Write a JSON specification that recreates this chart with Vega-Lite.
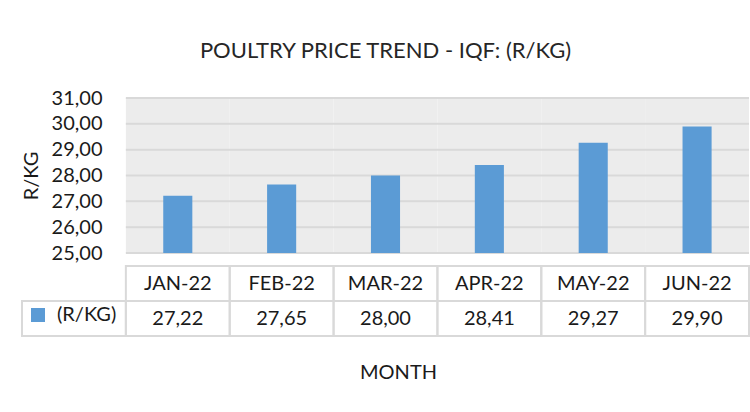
{
  "$schema": "https://vega.github.io/schema/vega-lite/v6.json",
  "width": 727,
  "height": 238,
  "autosize": {"type": "none"},
  "padding": {"left": 22, "top": 98, "right": 1, "bottom": 76},
  "background": "white",
  "title": {"text": "POULTRY PRICE TREND - IQF: (R/KG)", "fontSize": 22, "fontWeight": "normal", "font": "Lato", "color": "#262626", "offset": 25, "anchor": "middle"},
  "config": {
    "font": "Lato",
    "view": {"stroke": null},
    "locale": {"number": {"decimal": ",", "thousands": ".", "grouping": [3], "currency": ["", ""]}}
  },
  "datasets": {
    "prices": [
      {"month": "JAN-22", "value": 27.22, "series": "(R/KG)"},
      {"month": "FEB-22", "value": 27.65, "series": "(R/KG)"},
      {"month": "MAR-22", "value": 28.00, "series": "(R/KG)"},
      {"month": "APR-22", "value": 28.41, "series": "(R/KG)"},
      {"month": "MAY-22", "value": 29.27, "series": "(R/KG)"},
      {"month": "JUN-22", "value": 29.90, "series": "(R/KG)"}
    ],
    "ticks": [{"tick": 25}, {"tick": 26}, {"tick": 27}, {"tick": 28}, {"tick": 29}, {"tick": 30}, {"tick": 31}]
  },
  "data": {"name": "prices"},
  "resolve": {"scale": {"y": "independent"}},
  "layer": [
    {
      "layer": [
        {
          "mark": {"type": "rect", "fill": "#ececec"},
          "encoding": {
            "x": {"field": "month", "type": "nominal",
              "scale": {"type": "band", "domain": ["(R/KG)", "JAN-22", "FEB-22", "MAR-22", "APR-22", "MAY-22", "JUN-22"], "paddingInner": 0, "paddingOuter": 0},
              "axis": {"labels": false, "ticks": false, "domain": false, "grid": false, "title": "MONTH", "titleFontSize": 20, "titleFontWeight": "normal", "titleFont": "Lato", "titleColor": "#1a1a1a", "titleX": 376, "titleY": 36, "titleBaseline": "middle", "titleAlign": "center"}},
            "y": {"datum": 31, "type": "quantitative", "scale": {"domain": [25, 31], "range": [155, 0], "zero": false, "nice": false},
              "axis": {"title": "R/KG", "offset": -104, "labelPadding": 24, "labelOverlap": false, "ticks": false, "domain": false, "grid": false, "values": [25, 26, 27, 28, 29, 30, 31], "tickCount": 7, "format": ".2f", "labelFontSize": 20, "labelFont": "Lato", "labelColor": "#1a1a1a", "titleFontSize": 20, "titleFont": "Lato", "titleFontWeight": "normal", "titleColor": "#1a1a1a", "titlePadding": 10}},
            "y2": {"datum": 25}
          }
        },
        {
          "data": {"name": "ticks"},
          "mark": {"type": "rule", "color": "#d9d9d9", "strokeWidth": 2},
          "encoding": {
            "x": {"datum": "JAN-22", "type": "nominal", "bandPosition": 0,
              "scale": {"type": "band", "domain": ["(R/KG)", "JAN-22", "FEB-22", "MAR-22", "APR-22", "MAY-22", "JUN-22"], "paddingInner": 0, "paddingOuter": 0}},
            "x2": {"datum": "JUN-22", "bandPosition": 1},
            "y": {"field": "tick", "type": "quantitative", "scale": {"domain": [25, 31], "range": [155, 0], "zero": false, "nice": false},
              "axis": {"title": "R/KG", "offset": -104, "labelPadding": 24, "labelOverlap": false, "ticks": false, "domain": false, "grid": false, "values": [25, 26, 27, 28, 29, 30, 31], "tickCount": 7, "format": ".2f", "labelFontSize": 20, "labelFont": "Lato", "labelColor": "#1a1a1a", "titleFontSize": 20, "titleFont": "Lato", "titleFontWeight": "normal", "titleColor": "#1a1a1a", "titlePadding": 10}}
          }
        },
        {
          "mark": {"type": "bar", "width": {"band": 0.28}},
          "encoding": {
            "x": {"field": "month", "type": "nominal",
              "scale": {"type": "band", "domain": ["(R/KG)", "JAN-22", "FEB-22", "MAR-22", "APR-22", "MAY-22", "JUN-22"], "paddingInner": 0, "paddingOuter": 0}},
            "y": {"field": "value", "type": "quantitative", "scale": {"domain": [25, 31], "range": [155, 0], "zero": false, "nice": false},
              "axis": {"title": "R/KG", "offset": -104, "labelPadding": 24, "labelOverlap": false, "ticks": false, "domain": false, "grid": false, "values": [25, 26, 27, 28, 29, 30, 31], "tickCount": 7, "format": ".2f", "labelFontSize": 20, "labelFont": "Lato", "labelColor": "#1a1a1a", "titleFontSize": 20, "titleFont": "Lato", "titleFontWeight": "normal", "titleColor": "#1a1a1a", "titlePadding": 10}},
            "y2": {"datum": 25},
            "color": {"field": "series", "type": "nominal", "scale": {"range": ["#5b9bd5"]},
              "legend": {"orient": "none", "legendX": 6, "legendY": 207, "title": null, "symbolType": "square", "symbolSize": 196, "symbolStrokeWidth": 0, "labelFontSize": 20, "labelFont": "Lato", "labelColor": "#1a1a1a", "labelOffset": 9, "padding": 0}}
          }
        }
      ]
    },
    {
      "layer": [
        {
          "mark": {"type": "rect", "fill": null, "stroke": "#d9d9d9", "strokeWidth": 2},
          "encoding": {
            "x": {"field": "month", "type": "nominal",
              "scale": {"type": "band", "domain": ["(R/KG)", "JAN-22", "FEB-22", "MAR-22", "APR-22", "MAY-22", "JUN-22"], "paddingInner": 0, "paddingOuter": 0}},
            "y": {"datum": "header", "type": "nominal", "scale": {"type": "band", "domain": ["header", "value"], "range": [168, 238], "paddingInner": 0, "paddingOuter": 0}, "axis": null}
          }
        },
        {
          "mark": {"type": "rect", "fill": null, "stroke": "#d9d9d9", "strokeWidth": 2},
          "encoding": {
            "x": {"field": "month", "type": "nominal",
              "scale": {"type": "band", "domain": ["(R/KG)", "JAN-22", "FEB-22", "MAR-22", "APR-22", "MAY-22", "JUN-22"], "paddingInner": 0, "paddingOuter": 0}},
            "y": {"datum": "value", "type": "nominal", "scale": {"type": "band", "domain": ["header", "value"], "range": [168, 238], "paddingInner": 0, "paddingOuter": 0}, "axis": null}
          }
        },
        {
          "data": {"values": [{"series": "(R/KG)"}]},
          "mark": {"type": "rect", "fill": null, "stroke": "#d9d9d9", "strokeWidth": 2},
          "encoding": {
            "x": {"field": "series", "type": "nominal",
              "scale": {"type": "band", "domain": ["(R/KG)", "JAN-22", "FEB-22", "MAR-22", "APR-22", "MAY-22", "JUN-22"], "paddingInner": 0, "paddingOuter": 0}},
            "y": {"datum": "value", "type": "nominal", "scale": {"type": "band", "domain": ["header", "value"], "range": [168, 238], "paddingInner": 0, "paddingOuter": 0}, "axis": null}
          }
        },
        {
          "mark": {"type": "text", "fontSize": 20, "font": "Lato", "color": "#1a1a1a", "baseline": "middle", "align": "center"},
          "encoding": {
            "x": {"field": "month", "type": "nominal",
              "scale": {"type": "band", "domain": ["(R/KG)", "JAN-22", "FEB-22", "MAR-22", "APR-22", "MAY-22", "JUN-22"], "paddingInner": 0, "paddingOuter": 0}},
            "y": {"datum": "header", "type": "nominal", "scale": {"type": "band", "domain": ["header", "value"], "range": [168, 238], "paddingInner": 0, "paddingOuter": 0}, "axis": null},
            "text": {"field": "month", "type": "nominal"}
          }
        },
        {
          "mark": {"type": "text", "fontSize": 20, "font": "Lato", "color": "#1a1a1a", "baseline": "middle", "align": "center"},
          "encoding": {
            "x": {"field": "month", "type": "nominal",
              "scale": {"type": "band", "domain": ["(R/KG)", "JAN-22", "FEB-22", "MAR-22", "APR-22", "MAY-22", "JUN-22"], "paddingInner": 0, "paddingOuter": 0}},
            "y": {"datum": "value", "type": "nominal", "scale": {"type": "band", "domain": ["header", "value"], "range": [168, 238], "paddingInner": 0, "paddingOuter": 0}, "axis": null},
            "text": {"field": "value", "type": "quantitative", "format": ".2f"}
          }
        }
      ]
    }
  ]
}
